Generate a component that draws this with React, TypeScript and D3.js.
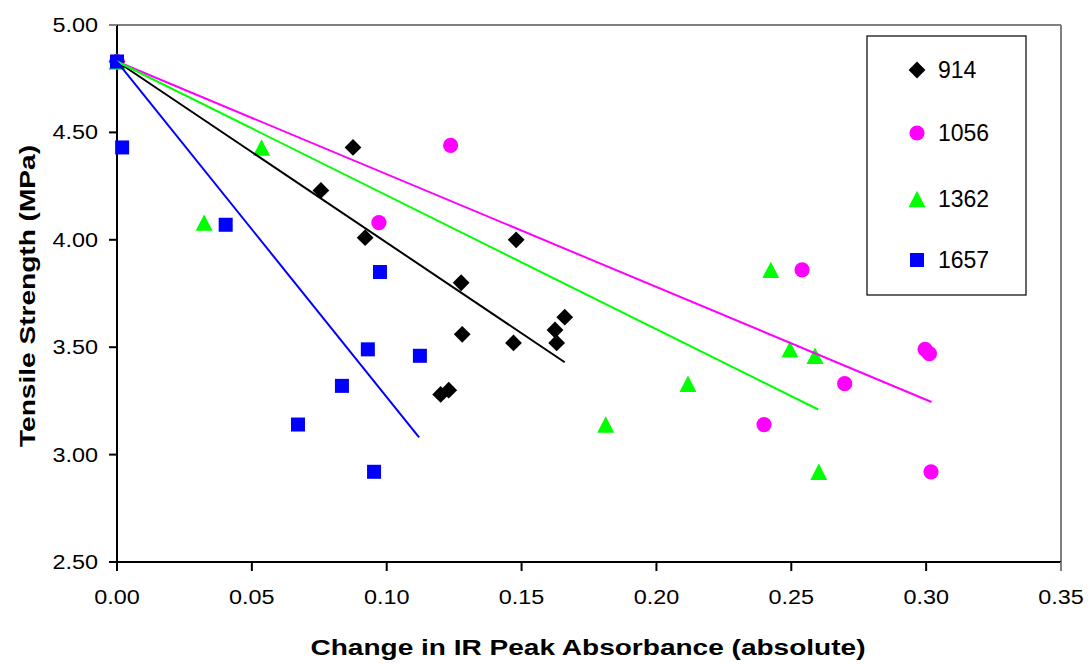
import React from "react";
import * as d3 from "d3";

// ---- data ----
const series914X = [0, 0.0875, 0.0756, 0.092, 0.148, 0.1276, 0.128, 0.147, 0.1624, 0.163, 0.166, 0.12, 0.123];
const series914Y = [4.83, 4.43, 4.23, 4.01, 4.0, 3.8, 3.56, 3.52, 3.58, 3.52, 3.64, 3.28, 3.3];

const series1056X = [0, 0.1237, 0.0971, 0.254, 0.2996, 0.3012, 0.2698, 0.2399, 0.3018];
const series1056Y = [4.83, 4.44, 4.08, 3.86, 3.49, 3.47, 3.33, 3.14, 2.92];

const series1362X = [0, 0.0536, 0.0323, 0.2424, 0.2495, 0.2588, 0.2117, 0.1812, 0.2602];
const series1362Y = [4.83, 4.43, 4.08, 3.86, 3.49, 3.46, 3.33, 3.14, 2.92];

const series1657X = [0, 0.0019, 0.0403, 0.0975, 0.093, 0.1123, 0.0834, 0.0671, 0.0953];
const series1657Y = [4.83, 4.43, 4.07, 3.85, 3.49, 3.46, 3.32, 3.14, 2.92];

// fitted trend lines (start, end)
const fit914X = [0, 0.166];
const fit914Y = [4.83, 3.43];
const fit1056X = [0, 0.302];
const fit1056Y = [4.83, 3.245];
const fit1362X = [0, 0.26];
const fit1362Y = [4.83, 3.21];
const fit1657X = [0, 0.112];
const fit1657Y = [4.83, 3.08];

const seriesNames = ["914", "1056", "1362", "1657"];
const seriesColors = ["#000000", "#FF00FF", "#00FF00", "#0000FF"];
const seriesShapes = ["diamond", "circle", "triangle", "square"];

const xTicks = [0, 0.05, 0.1, 0.15, 0.2, 0.25, 0.3, 0.35];
const yTicks = [2.5, 3.0, 3.5, 4.0, 4.5, 5.0];

const xTitle = "Change in IR Peak Absorbance (absolute)";
const yTitle = "Tensile Strength (MPa)";

const W = 1091;
const H = 664;
const FONT = "Liberation Sans, Arial, Helvetica, sans-serif";

function Marker({ shape, cx, cy, color }: { shape: string; cx: number; cy: number; color: string }) {
  if (shape === "diamond") {
    const r = 8.4;
    return <polygon points={`${cx},${cy - r} ${cx + r},${cy} ${cx},${cy + r} ${cx - r},${cy}`} fill={color} />;
  }
  if (shape === "circle") {
    return <circle cx={cx} cy={cy} r={7.6} fill={color} />;
  }
  if (shape === "triangle") {
    const hw = 8.5;
    const hh = 8.2;
    return <polygon points={`${cx},${cy - hh} ${cx + hw},${cy + hh} ${cx - hw},${cy + hh}`} fill={color} />;
  }
  const s = 7;
  return <rect x={cx - s} y={cy - s} width={2 * s} height={2 * s} fill={color} />;
}

export default function App() {
  const x = d3.scaleLinear().domain([0, 0.35]).range([117, 1061]);
  const y = d3.scaleLinear().domain([2.5, 5]).range([562, 25]);

  const allX = [series914X, series1056X, series1362X, series1657X];
  const allY = [series914Y, series1056Y, series1362Y, series1657Y];
  const fitsX = [fit914X, fit1056X, fit1362X, fit1657X];
  const fitsY = [fit914Y, fit1056Y, fit1362Y, fit1657Y];

  const line = d3
    .line<[number, number]>()
    .x((d) => x(d[0]))
    .y((d) => y(d[1]));

  const [x0, x1] = x.range();
  const [y0, y1] = y.range();

  const legendRows = [70, 133, 199, 260];

  return (
    <svg
      width={W}
      height={H}
      viewBox={`0 0 ${W} ${H}`}
      style={{ position: "absolute", left: 0, top: 0, background: "#fff" }}
      fontFamily={FONT}
    >
      <rect x={0} y={0} width={W} height={H} fill="#fff" />

      {/* plot border (top/right gray) */}
      <line x1={109} y1={y1} x2={x1} y2={y1} stroke="#808080" strokeWidth={2} />
      <line x1={x1} y1={y1} x2={x1} y2={y0 + 9} stroke="#808080" strokeWidth={2} />

      {/* y axis */}
      <line x1={x0} y1={y1} x2={x0} y2={y0 + 9} stroke="#000" strokeWidth={2} />
      {yTicks.map((t) => (
        <g key={"yt" + t}>
          <line x1={109} y1={y(t)} x2={x0} y2={y(t)} stroke={t === 5 ? "#808080" : "#000"} strokeWidth={2} />
          <text
            x={0}
            y={0}
            transform={`translate(98,${y(t) + 7}) scale(1.2,1)`}
            textAnchor="end"
            fontSize={19.5}
            fill="#000"
          >
            {t.toFixed(2)}
          </text>
        </g>
      ))}

      {/* x axis */}
      <line x1={109} y1={y0} x2={x1} y2={y0} stroke="#000" strokeWidth={2} />
      {xTicks.map((t) => (
        <g key={"xt" + t}>
          <line x1={x(t)} y1={y0} x2={x(t)} y2={y0 + 9} stroke={t === 0.35 ? "#808080" : "#000"} strokeWidth={2} />
          <text
            x={0}
            y={0}
            transform={`translate(${x(t)},${y0 + 42}) scale(1.2,1)`}
            textAnchor="middle"
            fontSize={19.5}
            fill="#000"
          >
            {t.toFixed(2)}
          </text>
        </g>
      ))}

      {/* markers */}
      {allX.map((xs, si) =>
        xs.map((xv, i) => (
          <Marker
            key={`m${si}-${i}`}
            shape={seriesShapes[si]}
            cx={x(xv)}
            cy={y(allY[si][i])}
            color={seriesColors[si]}
          />
        ))
      )}

      {/* fit lines */}
      {fitsX.map((fx, si) => (
        <path
          key={"fit" + si}
          d={line(fx.map((v, i) => [v, fitsY[si][i]] as [number, number])) || ""}
          fill="none"
          stroke={seriesColors[si]}
          strokeWidth={2}
        />
      ))}

      {/* legend */}
      <rect x={867} y={36} width={159} height={259} fill="#fff" stroke="#000" strokeWidth={1.2} />
      {seriesNames.map((name, i) => (
        <g key={"lg" + name}>
          <Marker shape={seriesShapes[i]} cx={917} cy={legendRows[i]} color={seriesColors[i]} />
          <text x={938} y={legendRows[i] + 8} fontSize={23} fill="#000">
            {name}
          </text>
        </g>
      ))}

      {/* axis titles */}
      <text
        x={588}
        y={655}
        textAnchor="middle"
        fontSize={22}
        fontWeight="bold"
        textLength={555}
        lengthAdjust="spacingAndGlyphs"
        fill="#000"
      >
        {xTitle}
      </text>
      <text
        transform={`translate(35,296) rotate(-90)`}
        textAnchor="middle"
        fontSize={22}
        fontWeight="bold"
        textLength={302}
        lengthAdjust="spacingAndGlyphs"
        fill="#000"
      >
        {yTitle}
      </text>
    </svg>
  );
}
